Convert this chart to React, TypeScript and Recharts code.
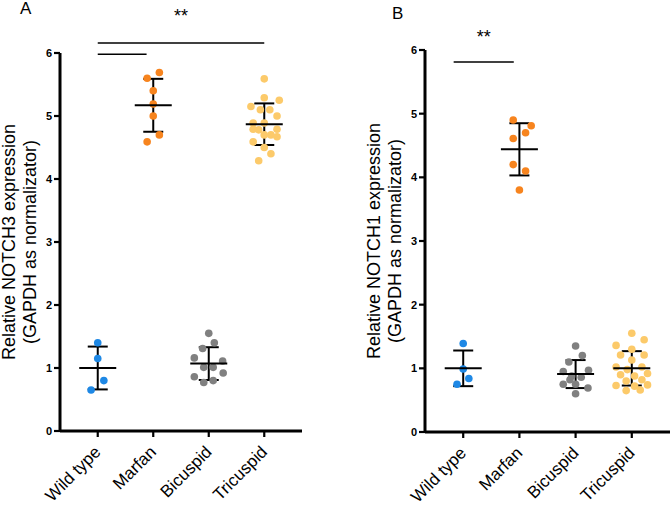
import React from 'react';
import {
  ScatterChart, Scatter, XAxis, YAxis, ErrorBar, ReferenceLine, Label,
} from 'recharts';

// ---------- data ----------
const categories = ['Wild type', 'Marfan', 'Bicuspid', 'Tricuspid'];
const yTicks = [0, 1, 2, 3, 4, 5, 6];
const xTicks = [1, 2, 3, 4];

// Panel A (NOTCH3) – values and horizontal spread (in category units)
const aWildType = [1.40, 1.15, 0.80, 0.65];
const aWildTypeX = [0, 0, 0.11, -0.12];
const aMarfan = [5.60, 5.69, 5.40, 5.19, 5.00, 4.70, 4.59];
const aMarfanX = [-0.11, 0.11, 0, 0, 0, 0.11, -0.11];
const aBicuspid = [1.55, 1.40, 1.31, 1.16, 1.11, 1.01, 1.01, 0.92, 0.86, 0.80, 0.77];
const aBicuspidX = [0, 0.1, -0.11, -0.26, 0.25, -0.09, 0.08, 0.26, -0.26, 0.08, -0.09];
const aTricuspid = [5.59, 5.29, 5.25, 5.15, 5.10, 5.10, 5.00, 4.89, 4.89, 4.79, 4.78, 4.79, 4.70, 4.70, 4.67, 4.59, 4.50, 4.40, 4.29];
const aTricuspidX = [0, 0, 0.27, -0.24, -0.07, 0.1, 0.23, -0.2, 0, -0.2, -0.1, 0.23, 0, 0.12, 0.23, -0.2, 0, 0.12, -0.1];
const aMean = [1.00, 5.17, 1.07, 4.87];
const aSd = [0.34, 0.42, 0.26, 0.33];

// Panel B (NOTCH1)
const bWildType = [1.39, 0.99, 0.84, 0.75];
const bWildTypeX = [0, 0, 0.1, -0.11];
const bMarfan = [4.90, 4.81, 4.70, 4.61, 4.20, 4.10, 3.80];
const bMarfanX = [-0.11, 0.21, 0.11, -0.11, -0.11, 0.11, 0];
const bBicuspid = [1.35, 1.20, 1.10, 0.97, 0.95, 0.88, 0.82, 0.86, 0.75, 0.75, 0.69, 0.60];
const bBicuspidX = [0, 0.12, -0.12, 0.23, -0.22, -0.07, -0.1, 0.1, -0.22, 0, 0.22, 0];
const bTricuspid = [1.55, 1.45, 1.36, 1.30, 1.21, 1.21, 1.13, 1.02, 1.02, 0.98, 0.92, 0.90, 0.88, 0.82, 0.80, 0.74, 0.73, 0.72, 0.66, 0.65];
const bTricuspidX = [0, 0.22, -0.28, 0, -0.2, 0.22, 0, -0.28, 0.18, -0.08, 0.28, -0.2, 0.05, 0.18, -0.1, 0.28, -0.28, 0.05, 0.15, -0.1];
const bMean = [1.00, 4.44, 0.91, 1.00];
const bSd = [0.28, 0.41, 0.22, 0.27];

// significance brackets: [x1, x2, y]
const aSig = [[1, 4, 6.16], [1, 1.88, 5.98]];
const bSig = [[0.83, 1.9, 5.81]];

const COLORS = ['#1E88E5', '#F7841E', '#808080', '#FCCA6A'];
const FONT = '"Liberation Sans", Arial, sans-serif';

type Pt = { x: number; y: number };
const toPts = (cat: number, vals: number[], dx: number[]): Pt[] =>
  vals.map((v, i) => ({ x: cat + dx[i], y: v }));

const RotTick = (props: any) => {
  const { x, y, payload } = props;
  const tx = x + 4;
  const ty = y + 14;
  return (
    <text x={tx} y={ty} transform={`rotate(-45 ${tx} ${ty})`} textAnchor="end"
      fontSize={17} fill="#000" fontFamily={FONT}>
      {categories[payload.value - 1]}
    </text>
  );
};

const Dot = (color: string) => (p: any) => (
  <circle cx={p.cx} cy={p.cy} r={3.8} fill={color} />
);

const MeanLine = (p: any) => (
  <line x1={p.cx - 18.5} x2={p.cx + 18.5} y1={p.cy} y2={p.cy} stroke="#000" strokeWidth={2} />
);

const makeYLabel = (l1: string, l2: string) => (p: any) => {
  const vb = p.viewBox || { x: 0, y: 53, width: 60, height: 378 };
  const cy = vb.y + vb.height / 2;
  const right = vb.x + vb.width;
  const x1 = right - 45;
  const x2 = right - 24;
  return (
    <g>
      <text x={x1} y={cy} transform={`rotate(-90 ${x1} ${cy})`} textAnchor="middle" fontSize={18} fill="#000" fontFamily={FONT}>{l1}</text>
      <text x={x2} y={cy} transform={`rotate(-90 ${x2} ${cy})`} textAnchor="middle" fontSize={18} fill="#000" fontFamily={FONT}>{l2}</text>
    </g>
  );
};

type PanelProps = {
  width: number;
  top: number;
  xHeight: number;
  groups: Pt[][];
  mean: number[];
  sd: number[];
  sig: number[][];
  sigLabelOffset: number;
  line1: string;
  line2: string;
};

const Panel = ({ width, top, xHeight, groups, mean, sd, sig, sigLabelOffset, line1, line2 }: PanelProps) => {
  const stats = mean.map((m, i) => ({ x: i + 1, y: m, sd: sd[i] }));
  return (
    <ScatterChart width={width} height={508} margin={{ top, right: 0, bottom: 0, left: 0 }} style={{ overflow: 'visible' }}>
      <XAxis type="number" dataKey="x" domain={[0.32, 4.68]} ticks={xTicks} interval={0}
        height={xHeight} tick={<RotTick />} tickSize={6}
        axisLine={{ stroke: '#000', strokeWidth: 3 }} tickLine={{ stroke: '#000', strokeWidth: 2.2 }} />
      <YAxis type="number" dataKey="y" domain={[0, 6]} ticks={yTicks} interval={0} width={60}
        tickSize={6} tickMargin={2}
        tick={{ fontSize: 11, fontWeight: 'bold', fill: '#000', fontFamily: FONT }}
        axisLine={{ stroke: '#000', strokeWidth: 3 }} tickLine={{ stroke: '#000', strokeWidth: 2.2 }}>
        <Label content={makeYLabel(line1, line2)} />
      </YAxis>
      {sig.map((s, i) => (
        <ReferenceLine key={`sig${i}`} ifOverflow="visible"
          segment={[{ x: s[0], y: s[2] }, { x: s[1], y: s[2] }]}
          stroke="#000" strokeWidth={1.5}
          label={i === 0 ? { value: '**', position: 'top', offset: sigLabelOffset, fill: '#000', fontSize: 18 } : undefined} />
      ))}
      {groups.map((g, i) => (
        <Scatter key={`g${i}`} data={g} shape={Dot(COLORS[i])} isAnimationActive={false} />
      ))}
      <Scatter data={stats} shape={MeanLine} isAnimationActive={false}>
        <ErrorBar dataKey="sd" direction="y" width={10} stroke="#000" strokeWidth={2} isAnimationActive={false} />
      </Scatter>
    </ScatterChart>
  );
};

export default function App() {
  const aGroups = [
    toPts(1, aWildType, aWildTypeX),
    toPts(2, aMarfan, aMarfanX),
    toPts(3, aBicuspid, aBicuspidX),
    toPts(4, aTricuspid, aTricuspidX),
  ];
  const bGroups = [
    toPts(1, bWildType, bWildTypeX),
    toPts(2, bMarfan, bMarfanX),
    toPts(3, bBicuspid, bBicuspidX),
    toPts(4, bTricuspid, bTricuspidX),
  ];
  return (
    <div style={{ position: 'absolute', left: 0, top: 0, width: 670, height: 508, background: '#fff', fontFamily: FONT, overflow: 'hidden' }}>
      <div style={{ position: 'absolute', left: 20, top: 0, fontSize: 17, lineHeight: '17px' }}>A</div>
      <div style={{ position: 'absolute', left: 392, top: 5, fontSize: 17, lineHeight: '17px' }}>B</div>
      <div style={{ position: 'absolute', left: 0, top: 0 }}>
        <Panel width={302} top={53} xHeight={77} groups={aGroups} mean={aMean} sd={aSd} sig={aSig}
          sigLabelOffset={21}
          line1="Relative NOTCH3 expression" line2="(GAPDH as normalizator)" />
      </div>
      <div style={{ position: 'absolute', left: 365, top: 0 }}>
        <Panel width={305} top={50} xHeight={76} groups={bGroups} mean={bMean} sd={bSd} sig={bSig}
          sigLabelOffset={19}
          line1="Relative NOTCH1 expression" line2="(GAPDH as normalizator)" />
      </div>
    </div>
  );
}
